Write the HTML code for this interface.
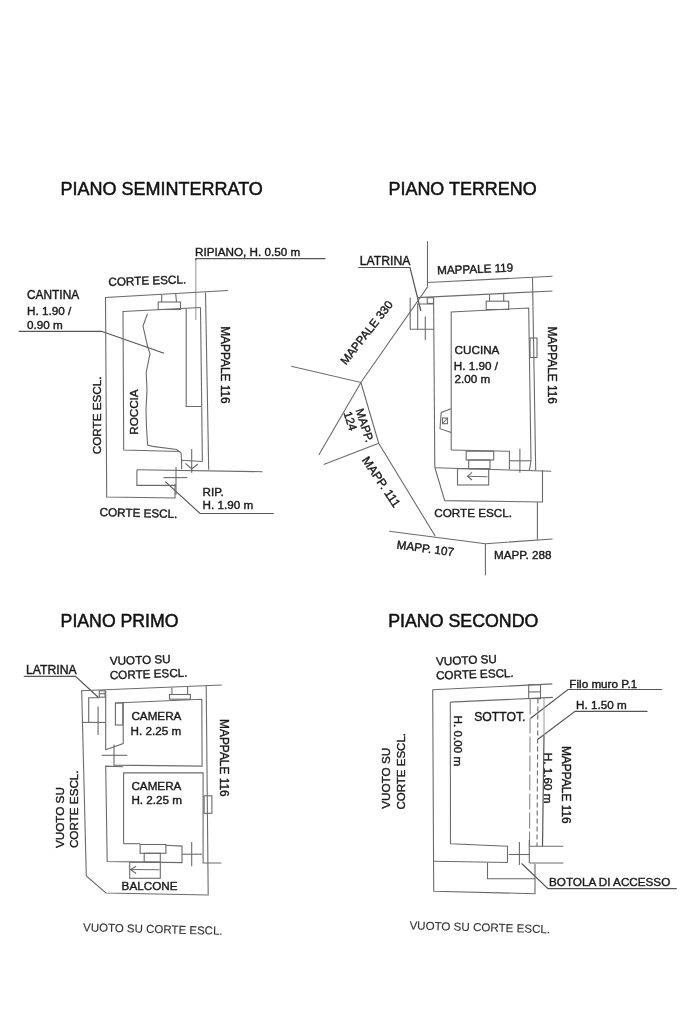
<!DOCTYPE html>
<html><head><meta charset="utf-8">
<style>
html,body{margin:0;padding:0;background:#fff;}
body{width:683px;height:1025px;overflow:hidden;}
svg{display:block;will-change:transform;}
.l{stroke:#6b6b6b;stroke-width:1.1;fill:none;}
.d{stroke:#555;stroke-width:1.2;fill:none;}
.lt{stroke:#9a9a9a;stroke-width:1;fill:none;}
.ds{stroke:#6b6b6b;stroke-width:1.1;fill:none;stroke-dasharray:5 3;}
text{font-family:"Liberation Sans",sans-serif;fill:#1a1a1a;stroke:#1a1a1a;stroke-width:0.4px;}
.t{font-size:18px;fill:#111;stroke:#111;stroke-width:0.5px;}
.s{font-size:11.7px;}
</style></head><body>
<svg width="683" height="1025" viewBox="0 0 683 1025">
<!-- ========== PIANO SEMINTERRATO ========== -->
<g id="semi">
<text class="t" x="60.5" y="195.4">PIANO SEMINTERRATO</text>
<text class="s" x="195" y="255.7">RIPIANO, H. 0.50 m</text>
<line class="lt" x1="195.8" y1="320" x2="195.8" y2="258.7" style="stroke:#aaa;stroke-width:1.3"/>
<polyline class="d" points="195.7,260 195.7,258.7 325.5,258.7"/>
<text class="s" x="108.5" y="286" transform="rotate(-2 108.5 286)">CORTE ESCL.</text>
<text class="s" x="27" y="299" style="font-size:11.9px">CANTINA</text>
<text class="s" x="27" y="315.4">H. 1.90 /</text>
<text class="s" x="27" y="329">0.90 m</text>
<polyline class="d" points="18.7,331.3 101.5,331.3 164,353.3"/>
<text class="s" x="100.6" y="454.2" transform="rotate(-90 100.6 454.2)">CORTE ESCL.</text>
<text class="s" x="138" y="434.8" transform="rotate(-90 138 434.8)">ROCCIA</text>
<text class="s" x="220.7" y="326.2" transform="rotate(90 220.7 326.2)" style="font-size:11.9px">MAPPALE 116</text>
<text class="s" x="202.5" y="495.5">RIP.</text>
<text class="s" x="202.5" y="509.3">H. 1.90 m</text>
<polyline class="d" points="165.3,481.6 200,513.5 273.7,513.5"/>
<text class="s" x="99.5" y="516" transform="rotate(1.5 99.5 516)">CORTE ESCL.</text>
<polyline class="l" points="228,290.5 105.5,297.5 106.7,497 175,498 175,483.7"/>
<line class="l" x1="205.5" y1="292.5" x2="208.7" y2="469.7"/>
<polyline class="l" points="200.5,307.5 123,311.5 123.7,450 180,451.5"/>
<line class="l" x1="200.5" y1="307.5" x2="202.4" y2="461.5"/>
<rect class="l" x="158.2" y="302" width="22.3" height="7.5"/>
<line class="l" x1="161.7" y1="295" x2="161.7" y2="302"/>
<line class="l" x1="175.7" y1="293.5" x2="176.5" y2="302"/>
<polyline class="l" points="186.2,308.7 186.2,406.5 201,406.5"/>
<polyline class="l" points="147.5,313.7 143,326 147.5,346 150,353.7 146.2,372.5 147,390 146,410 146.5,427 147.6,445 152.7,446.4 176.6,449.5 181,452.7 181.6,460.2 181.6,469"/>
<polyline class="l" points="181.6,460.2 202.4,461.5"/>
<line class="l" x1="191.7" y1="448.9" x2="191.7" y2="472.8"/>
<polyline class="l" points="185.4,463.4 191.7,469 198,464"/>
<line class="l" x1="136.9" y1="469.7" x2="262.5" y2="471.7"/>
<polyline class="l" points="136.9,469.7 136.9,485.4 176,485.4"/>
<line class="l" x1="176" y1="467" x2="176" y2="495"/>
<line class="l" x1="163.4" y1="477.6" x2="187.3" y2="477.6"/>
</g>
<!-- ========== PIANO TERRENO ========== -->
<g id="terr">
<text class="t" x="388.5" y="195.2" style="font-size:17.95px">PIANO TERRENO</text>
<text class="s" x="359.8" y="264.5" style="font-size:12.2px">LATRINA</text>
<polyline class="d" points="358.2,267.5 410,267.5 420.9,311"/>
<text class="s" x="437.2" y="274.3" transform="rotate(-2 437.2 274.3)">MAPPALE 119</text>
<text class="s" x="346" y="365.5" transform="rotate(-52 346 365.5)">MAPPALE 330</text>
<text class="s" x="355.5" y="410" transform="rotate(72 355.5 410)">MAPP.</text>
<text class="s" x="343.4" y="413" transform="rotate(72 343.4 413)">124</text>
<text class="s" x="361.5" y="460" transform="rotate(56 361.5 460)" style="font-size:12.2px">MAPP. 111</text>
<text class="s" x="454.6" y="353.6">CUCINA</text>
<text class="s" x="453.8" y="369.8">H. 1.90 /</text>
<text class="s" x="454.5" y="383.3">2.00 m</text>
<text class="s" x="547.9" y="326.4" transform="rotate(90 547.9 326.4)" style="font-size:11.9px">MAPPALE 116</text>
<text class="s" x="434.3" y="517.2">CORTE ESCL.</text>
<text class="s" x="396.3" y="548.5" transform="rotate(7.7 396.3 548.5)">MAPP. 107</text>
<text class="s" x="493.9" y="559">MAPP. 288</text>
<!-- property lines -->
<polyline class="l" points="427.5,286.6 427.5,241.2"/>
<polyline class="l" points="427.5,282.5 552.5,276.2"/>
<polyline class="l" points="427.8,286.6 360.9,382.5 291.2,366.3"/>
<line class="l" x1="360.9" y1="382.5" x2="318.8" y2="455"/>
<polyline class="l" points="360.9,382.5 378.7,443.2 435.3,536.3"/>
<line class="l" x1="378.7" y1="443.2" x2="323.7" y2="464.5"/>
<polyline class="l" points="389.2,531.3 485.4,543.7 552.6,539"/>
<line class="l" x1="485.4" y1="543.7" x2="485.4" y2="575.3"/>
<!-- building -->
<line class="l" x1="417.5" y1="297.6" x2="552.5" y2="291"/>
<line class="l" x1="532.5" y1="277.5" x2="535.7" y2="470.4"/>
<line class="l" x1="433.6" y1="297.6" x2="434.8" y2="467.8"/>
<polyline class="l" points="410.2,297.7 410.2,329.2 433.5,329.2"/>
<polyline class="l" points="433.5,304 417.7,304 417.7,329.2"/>
<rect class="l" x="427.2" y="297.7" width="6.3" height="5.7"/>
<line class="l" x1="425.3" y1="316.6" x2="425.3" y2="340"/>
<polyline class="l" points="451.2,450 451.2,312 528.7,308 531,461 529.3,470.4"/>
<line class="l" x1="451.2" y1="450" x2="508.7" y2="451.2"/>
<rect class="l" x="486.2" y="301.2" width="22.5" height="8.3"/>
<line class="l" x1="489.5" y1="294.5" x2="489.5" y2="301.2"/>
<line class="l" x1="503.7" y1="293.8" x2="503.7" y2="301.2"/>
<rect class="l" x="530" y="338" width="7" height="19.5"/>
<polyline class="l" points="451.2,408.7 441.2,412.5 440,428.7 451.2,432.5"/>
<rect class="l" x="442.5" y="418" width="5" height="5.7"/>
<line class="l" x1="443" y1="423" x2="447" y2="418.5"/>
<rect class="l" x="466.2" y="451.2" width="27.5" height="8.8"/>
<rect class="l" x="468.7" y="460" width="21.3" height="8.7"/>
<rect class="l" x="457.5" y="468.7" width="31.2" height="16.3"/>
<line class="l" x1="467.5" y1="476.2" x2="487.5" y2="476.7"/>
<polyline class="l" points="472,472.3 467.5,476.2 472,480"/>
<polyline class="l" points="508.7,451.2 509.4,451.1 509.4,469.3"/>
<line class="l" x1="509.4" y1="460.8" x2="531" y2="460.8"/>
<line class="l" x1="519.9" y1="448.8" x2="519.9" y2="472.8"/>
<line class="l" x1="434.8" y1="467.8" x2="551.2" y2="471.2"/>
<polyline class="l" points="435,468 444.7,500.6 542.5,502 542.5,470"/>
<line class="l" x1="537.4" y1="502" x2="537.4" y2="539.8"/>
</g>
<!-- ========== PIANO PRIMO ========== -->
<g id="primo">
<text class="t" x="60.6" y="626.8" style="font-size:17.7px">PIANO PRIMO</text>
<text class="s" x="26" y="673.7" style="font-size:12.2px">LATRINA</text>
<polyline class="d" points="23.7,676.3 75.5,676.3 98.7,697.8"/>
<text class="s" x="109.9" y="665" transform="rotate(-1.8 109.9 665)">VUOTO SU</text>
<text class="s" x="109.9" y="679.3" transform="rotate(-2 109.9 679.3)">CORTE ESCL.</text>
<text class="s" x="131.4" y="720.2">CAMERA</text>
<text class="s" x="130.5" y="734.5">H. 2.25 m</text>
<text class="s" x="131.4" y="789.7">CAMERA</text>
<text class="s" x="131.4" y="804">H. 2.25 m</text>
<text class="s" x="220.4" y="719.1" transform="rotate(90 220.4 719.1)" style="font-size:11.9px">MAPPALE 116</text>
<text class="s" x="63.6" y="848" transform="rotate(-90 63.6 848)">VUOTO SU</text>
<text class="s" x="77.8" y="848.1" transform="rotate(-90 77.8 848.1)">CORTE ESCL.</text>
<text class="s" x="121.6" y="890.4">BALCONE</text>
<text class="s" x="83" y="931.2" transform="rotate(1.5 83 931.2)" style="font-size:11.5px;stroke-width:0.1px;fill:#333">VUOTO SU CORTE ESCL.</text>
<!-- walls -->
<line class="l" x1="81.1" y1="690.8" x2="221.8" y2="685"/>
<polyline class="l" points="81.7,690.8 86.3,875.9 106,893 208.2,895 206.2,685.9"/>
<polyline class="l" points="88.7,722.4 88.7,697.8 99.3,697.8"/>
<line class="l" x1="81.7" y1="722.4" x2="105.7" y2="722.4"/>
<rect class="l" x="99.3" y="690.8" width="5.8" height="6.4"/>
<line class="l" x1="99.3" y1="693.7" x2="105.1" y2="693.7"/>
<line class="l" x1="98.1" y1="706.6" x2="98.1" y2="735"/>
<polyline class="l" points="105.7,690.8 105.7,749.7 123.2,743.6 123.2,702.5"/>
<rect class="l" x="115.4" y="703" width="7.4" height="22"/>
<polyline class="l" points="115.2,703 201.8,699.2 202.1,766.1 114,765.1 114,744.6"/>
<line class="l" x1="101.6" y1="755.3" x2="127.3" y2="755.3"/>
<rect class="l" x="169.5" y="694.5" width="20.9" height="4.7"/>
<line class="l" x1="171.9" y1="687.5" x2="171.9" y2="694.5"/>
<line class="l" x1="187.6" y1="686.5" x2="187.6" y2="694.5"/>
<polyline class="l" points="123.2,766.7 105.7,766.1 107.2,861.5 182,862.6 182,846.1 165.9,845.3"/>
<polyline class="l" points="123.6,843.7 123.6,772.9 203.1,772.9 203.1,863 221.4,863"/>
<line class="l" x1="123.6" y1="843.7" x2="140.1" y2="843.7"/>
<rect class="l" x="204.1" y="795.8" width="7.8" height="17.5"/>
<rect class="l" x="140.1" y="844.5" width="25.8" height="8.8"/>
<rect class="l" x="144.2" y="853.3" width="16.1" height="8.9"/>
<rect class="l" x="129.7" y="862.2" width="30.6" height="16.1"/>
<line class="l" x1="130.5" y1="869.5" x2="159.5" y2="869.8"/>
<polyline class="l" points="136.1,866.2 130.5,869.5 136.1,873.5"/>
<line class="l" x1="182" y1="854.2" x2="202.1" y2="854.2"/>
<line class="l" x1="191.7" y1="842.1" x2="191.7" y2="866.2"/>
</g>
<!-- ========== PIANO SECONDO ========== -->
<g id="secondo">
<text class="t" x="388.2" y="626.8" style="font-size:17.8px">PIANO SECONDO</text>
<text class="s" x="436.2" y="665.5" transform="rotate(-2.5 436.2 665.5)">VUOTO SU</text>
<text class="s" x="436.2" y="679.5" transform="rotate(-2 436.2 679.5)">CORTE ESCL.</text>
<text class="s" x="474.2" y="720.9" style="font-size:12.2px">SOTTOT.</text>
<text class="s" x="453.9" y="715.6" transform="rotate(90 453.9 715.6)">H. 0.00 m</text>
<text class="s" x="569.3" y="687.5">Filo muro P.1</text>
<polyline class="d" points="662,689.5 568,689.5 530.7,718.3"/>
<text class="s" x="576" y="709">H. 1.50 m</text>
<polyline class="d" points="647.5,711.3 575,711.3 537.9,739.2"/>
<text class="s" x="544" y="752.8" transform="rotate(90 544 752.8)">H. 1.60 m</text>
<text class="s" x="562.3" y="745.9" transform="rotate(90 562.3 745.9)" style="font-size:11.95px">MAPPALE 116</text>
<text class="s" x="390" y="808.7" transform="rotate(-90 390 808.7)">VUOTO SU</text>
<text class="s" x="404.5" y="809.5" transform="rotate(-90 404.5 809.5)" style="font-size:11.5px">CORTE ESCL.</text>
<text class="s" x="549" y="886.4">BOTOLA DI ACCESSO</text>
<polyline class="d" points="521.6,863.5 548,888.6 676.8,888.6"/>
<text class="s" x="409.4" y="929.3" transform="rotate(1.6 409.4 929.3)" style="font-size:11.6px;stroke-width:0.1px;fill:#333">VUOTO SU CORTE ESCL.</text>
<!-- walls -->
<line class="l" x1="432.7" y1="689.8" x2="552.3" y2="683.9"/>
<polyline class="l" points="432.7,689.8 433.7,891.2 535,893.7 535,863.7"/>
<line class="l" x1="450.3" y1="702.1" x2="552.8" y2="697.4"/>
<polyline class="l" points="450.3,702.1 450.5,843.7 507.5,846.2 507.5,862.5"/>
<line class="l" x1="433.7" y1="861.2" x2="507.5" y2="862.5"/>
<polyline class="l" points="487.5,862.5 487.5,878.7 535,878.7"/>
<rect class="l" x="528.7" y="684.7" width="11.8" height="13.9"/>
<line class="l" x1="528.7" y1="691.9" x2="540.5" y2="691.9"/>
<line class="l" x1="530.2" y1="698.6" x2="529.5" y2="846" style="stroke-dasharray:16 3;stroke:#888"/>
<line class="ds" x1="537.9" y1="698.6" x2="537" y2="846"/>
<line class="lt" x1="544" y1="698" x2="544" y2="735.5"/>
<line class="d" x1="544" y1="735.5" x2="542.5" y2="846.2"/>
<line class="l" x1="529.5" y1="846.2" x2="563.3" y2="846.2"/>
<line class="l" x1="529.3" y1="863" x2="563.3" y2="863"/>
<line class="l" x1="508.7" y1="854.5" x2="530" y2="854.5"/>
<line class="l" x1="519.4" y1="842" x2="519.4" y2="865.1"/>
<line class="l" x1="529.3" y1="839.9" x2="529.3" y2="863"/>
</g>
</svg>
</body></html>
